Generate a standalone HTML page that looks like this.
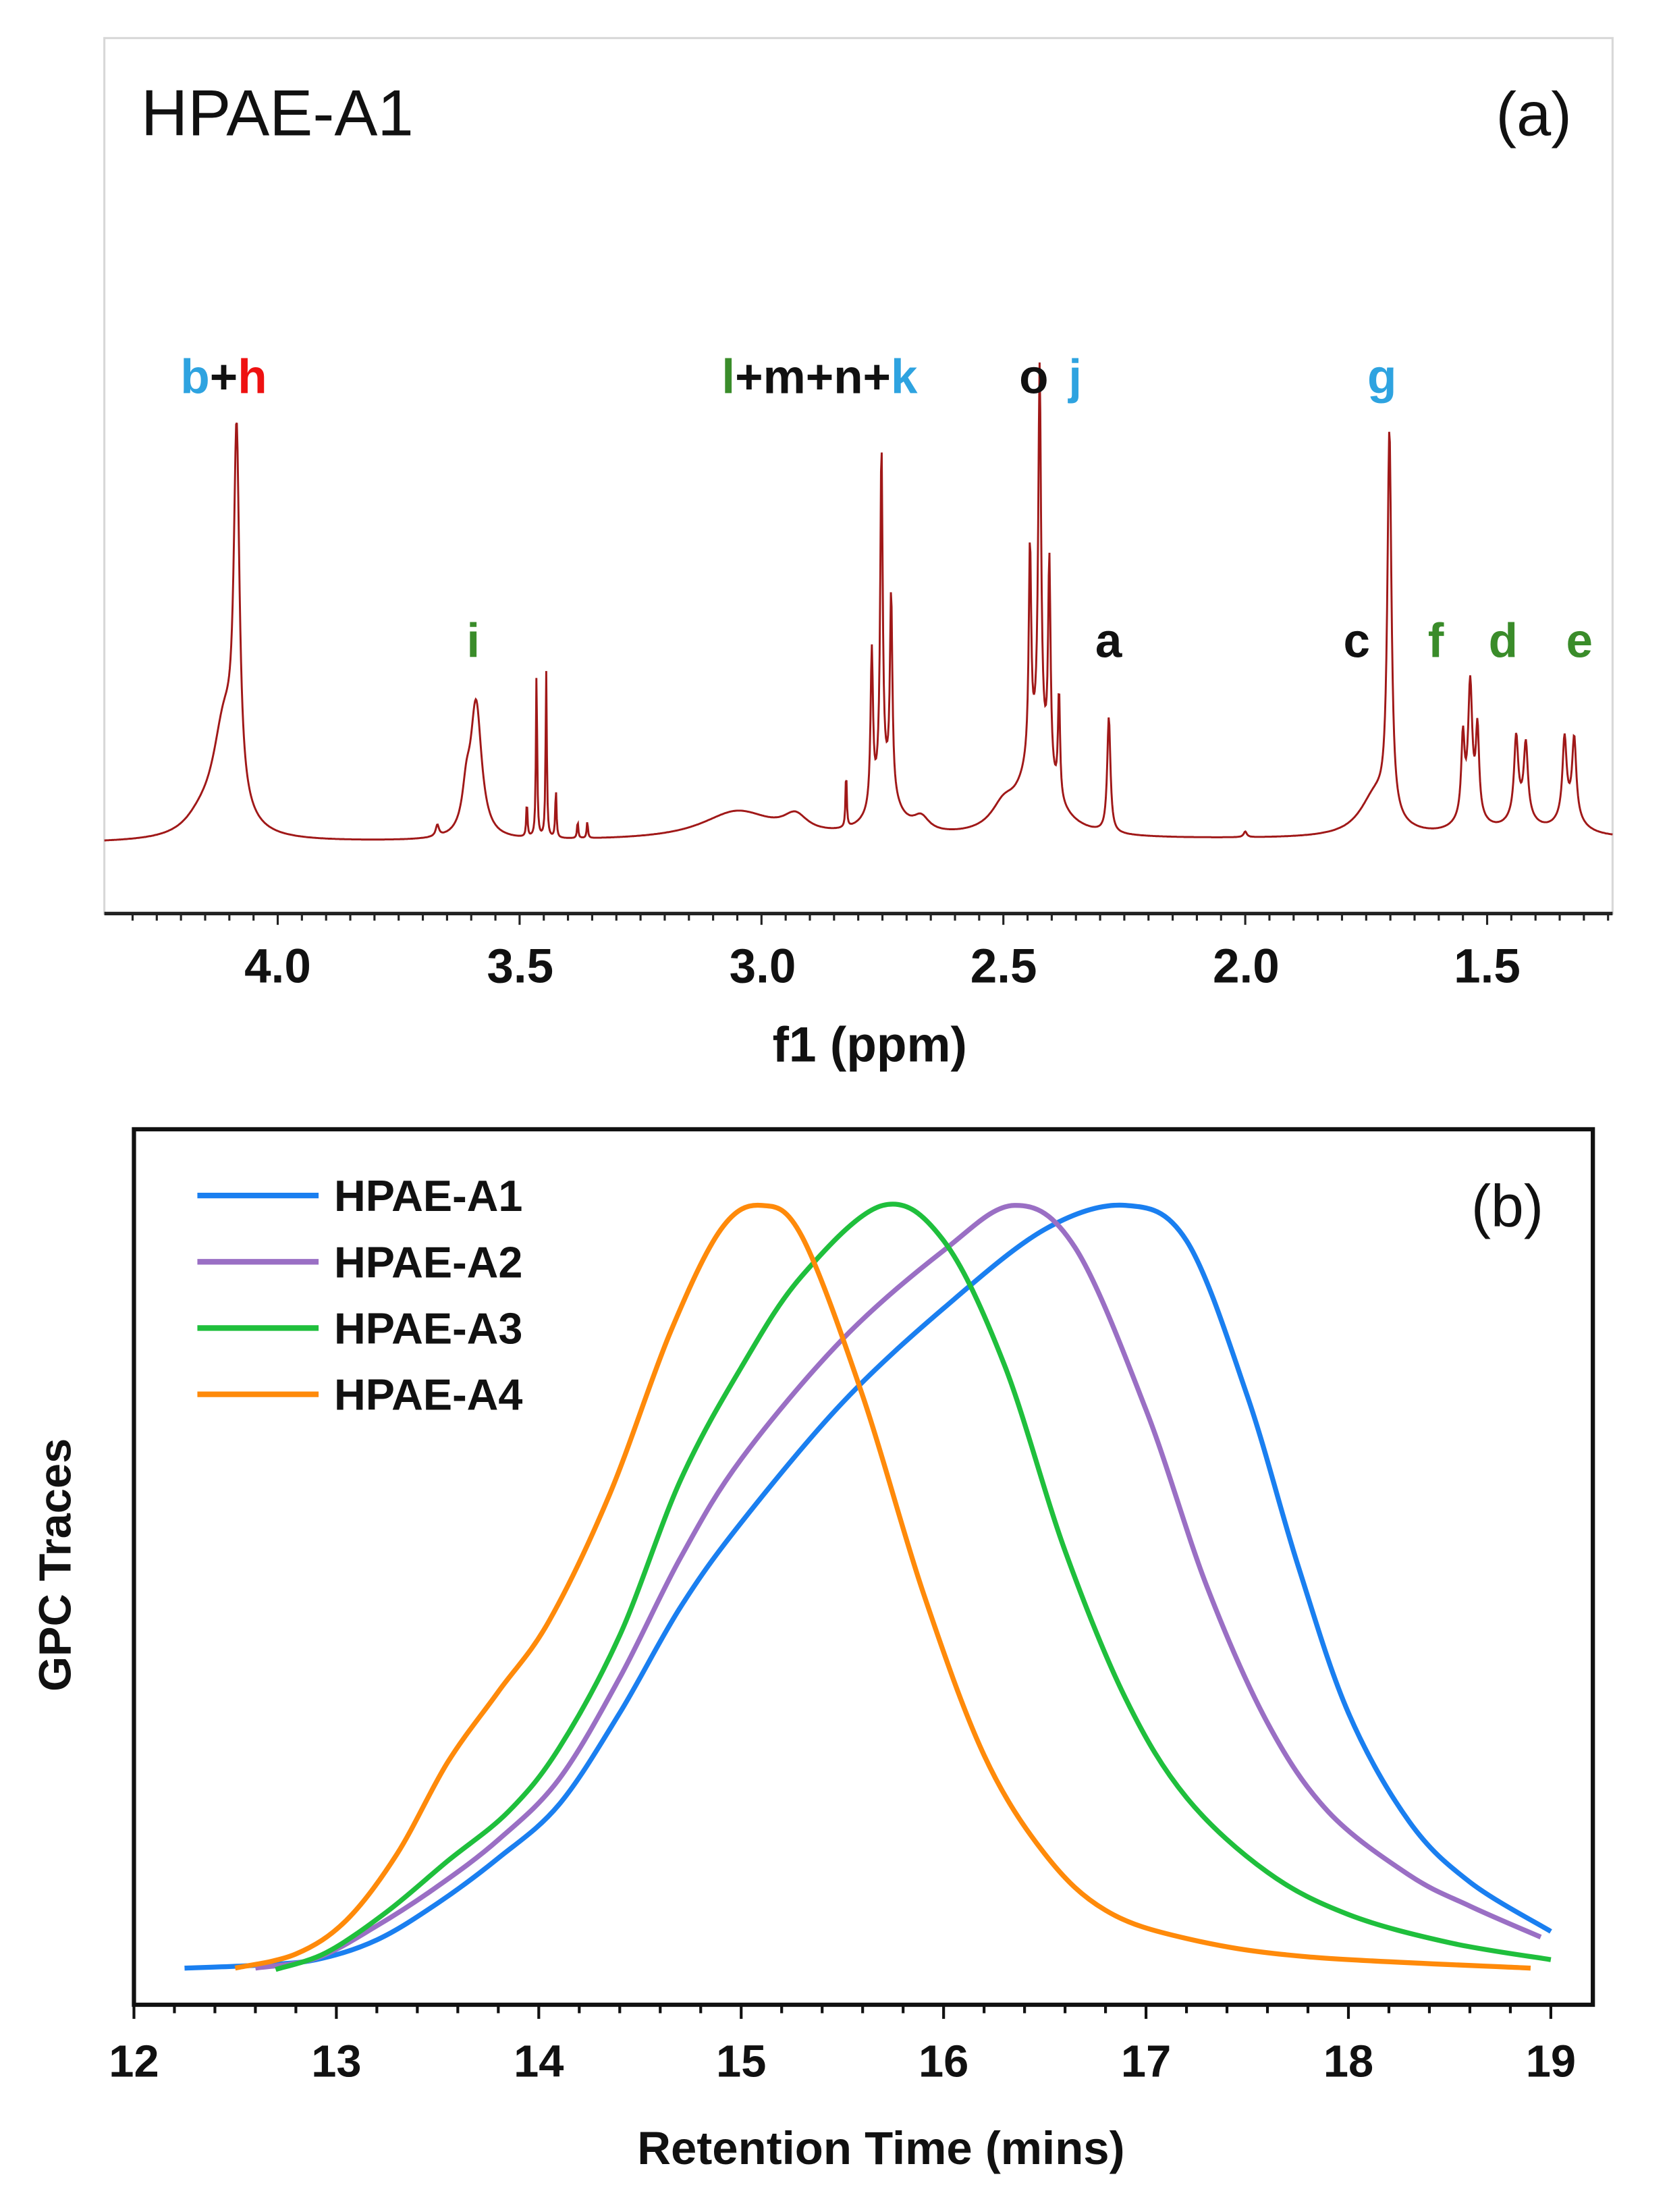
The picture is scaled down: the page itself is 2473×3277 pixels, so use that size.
<!DOCTYPE html>
<html><head><meta charset="utf-8"><style>
html,body{margin:0;padding:0;background:#fff;}
svg{display:block;}
.b{font-family:"Liberation Sans",sans-serif;font-weight:bold;}
</style></head><body>
<svg id="s" width="2473" height="3277" viewBox="0 0 1184 1569" xmlns="http://www.w3.org/2000/svg">
<rect x="0" y="0" width="1184" height="1569" fill="#fff"/>
<rect x="74" y="27" width="1070" height="621" fill="none" stroke="#d8d8d8" stroke-width="1.5"/>
<line x1="74" y1="648" x2="1144" y2="648" stroke="#222" stroke-width="2.5"/>
<g id="ticksA" stroke="#222" stroke-width="1.5"></g>
<text x="100" y="96" font-family="Liberation Sans,sans-serif" font-size="46" fill="#111">HPAE-A1</text>
<text x="1115" y="96" text-anchor="end" font-family="Liberation Sans,sans-serif" font-size="44" fill="#111">(a)</text>
<path id="nmr" fill="none" stroke="#a01818" stroke-width="1.4"/>
<g class="b" font-size="34">
<text x="128" y="279"><tspan fill="#2ea3e0">b</tspan><tspan fill="#111">+</tspan><tspan fill="#ee1111">h</tspan></text>
<text x="512" y="279"><tspan fill="#3a8c2a">l</tspan><tspan fill="#111">+m+n+</tspan><tspan fill="#2ea3e0">k</tspan></text>
<text x="723" y="279" fill="#111">o</text>
<text x="758" y="279" fill="#2ea3e0">j</text>
<text x="970" y="279" fill="#2ea3e0">g</text>
<text x="331" y="466" fill="#3a8c2a">i</text>
<text x="777" y="466" fill="#111">a</text>
<text x="953" y="466" fill="#111">c</text>
<text x="1013" y="466" fill="#3a8c2a">f</text>
<text x="1056" y="466" fill="#3a8c2a">d</text>
<text x="1111" y="466" fill="#3a8c2a">e</text>
</g>
<g class="b" font-size="34" fill="#111" text-anchor="middle">
<text x="197" y="697">4.0</text><text x="369" y="697">3.5</text><text x="541" y="697">3.0</text>
<text x="712" y="697">2.5</text><text x="884" y="697">2.0</text><text x="1055" y="697">1.5</text>
<text x="617" y="753" font-size="35">f1 (ppm)</text>
</g>
<rect x="95" y="801" width="1035" height="621" fill="none" stroke="#111" stroke-width="3"/>
<g id="ticksB" stroke="#111" stroke-width="2"></g>
<g class="b" font-size="32" fill="#111" text-anchor="middle" id="lblB"></g>
<text class="b" x="625" y="1535" text-anchor="middle" font-size="33" fill="#111">Retention Time (mins)</text>
<text class="b" transform="translate(50,1110) rotate(-90)" text-anchor="middle" font-size="32" fill="#111">GPC Traces</text>
<text x="1095" y="870" text-anchor="end" font-family="Liberation Sans,sans-serif" font-size="42" fill="#111">(b)</text>
<g id="curves" fill="none" stroke-width="3.5" stroke-linejoin="round"></g>
<g stroke-width="4">
<line x1="140" y1="848" x2="226" y2="848" stroke="#1a7ff0"/>
<line x1="140" y1="895" x2="226" y2="895" stroke="#9a6fc4"/>
<line x1="140" y1="942" x2="226" y2="942" stroke="#1fbf3c"/>
<line x1="140" y1="989" x2="226" y2="989" stroke="#ff8a0a"/>
</g>
<g class="b" font-size="31" fill="#111">
<text x="237" y="859">HPAE-A1</text><text x="237" y="906">HPAE-A2</text>
<text x="237" y="953">HPAE-A3</text><text x="237" y="1000">HPAE-A4</text>
</g>
</svg>
<script>
var NS="http://www.w3.org/2000/svg";
function el(t,a,p){var e=document.createElementNS(NS,t);for(var k in a)e.setAttribute(k,a[k]);p.appendChild(e);return e;}
var ta=document.getElementById("ticksA");
function xp(p){return 197+(4.0-p)*343.2;}
for(var p=4.3;p>=1.25;p-=0.05){var x=xp(p);var major=Math.abs(p*2-Math.round(p*2))<0.01;el("line",{x1:x,y1:648,x2:x,y2:major?656:653},ta);}
var pk=[[4.085,250,.007],[4.11,80,.03],[4.16,10,.04],[3.59,95,.014],[3.61,25,.01],[3.67,8,.004],
[3.465,118,.0015],[3.445,118,.0015],[3.485,25,.0015],[3.425,35,.0015],[3.38,12,.0015],[3.36,12,.0015],
[3.05,20,.09],[2.93,12,.03],[2.825,40,.0015],[2.752,240,.003],[2.732,140,.003],[2.772,110,.003],[2.745,35,.03],[2.67,10,.02],
[2.425,270,.0035],[2.445,150,.003],[2.405,150,.003],[2.385,75,.0025],[2.43,60,.04],[2.5,15,.03],[2.282,82,.004],
[1.702,270,.005],[1.73,30,.04],[1.55,55,.004],[1.535,90,.005],[1.52,60,.004],[1.535,15,.03],
[1.44,55,.005],[1.42,50,.005],[1.43,15,.03],[1.34,55,.005],[1.32,55,.005],[1.33,15,.03],[2.0,4,.004]];
var d="";
for(var x=74;x<=1144;x+=0.5){var p=4.0-(x-197)/343.2;var y=598-(x-74)*0.003;
for(var i=0;i<pk.length;i++){var q=pk[i],u=(p-q[0])/q[2];y-=q[1]/(1+u*u);}
d+=(x==74?"M":"L")+x.toFixed(1)+" "+y.toFixed(1);}
document.getElementById("nmr").setAttribute("d",d);
var tb=document.getElementById("ticksB"),lb=document.getElementById("lblB");
function xt(t){return 95+(t-12)*143.6;}
for(var t=12;t<=19.01;t+=0.2){var x=xt(t);var major=Math.abs(t-Math.round(t))<0.01;el("line",{x1:x,y1:1422,x2:x,y2:major?1432:1428},tb);}
for(var t=12;t<=19;t++){var tx=el("text",{x:xt(t),y:1473},lb);tx.textContent=t;}
function cr(pts){var P=pts.map(function(a){return [xt(a[0]),a[1]];});var s="M"+P[0][0]+" "+P[0][1];
for(var i=0;i<P.length-1;i++){var p0=P[i-1]||P[i],p1=P[i],p2=P[i+1],p3=P[i+2]||P[i+1];
s+=" C"+(p1[0]+(p2[0]-p0[0])/6)+" "+(p1[1]+(p2[1]-p0[1])/6)+" "+(p2[0]-(p3[0]-p1[0])/6)+" "+(p2[1]-(p3[1]-p1[1])/6)+" "+p2[0]+" "+p2[1];}
return s;}
var C=[["#1a7ff0",[[12.25,1396],[12.6,1394],[12.9,1390],[13.2,1376],[13.5,1350],[13.8,1318],[14.1,1280],[14.4,1215],[14.7,1140],[15.0,1080],[15.5,995],[16.0,928],[16.5,872],[16.9,855],[17.2,880],[17.5,990],[17.75,1110],[18.0,1215],[18.3,1292],[18.6,1335],[19.0,1370]]],
["#9a6fc4",[[12.6,1396],[12.9,1389],[13.2,1366],[13.5,1338],[13.8,1305],[14.1,1262],[14.4,1190],[14.7,1105],[15.0,1035],[15.5,950],[16.0,887],[16.35,855],[16.65,885],[17.0,1000],[17.3,1125],[17.6,1222],[17.9,1285],[18.3,1330],[18.6,1352],[18.95,1374]]],
["#1fbf3c",[[12.7,1397],[12.95,1385],[13.25,1356],[13.55,1320],[13.85,1285],[14.1,1240],[14.4,1160],[14.7,1050],[15.0,970],[15.3,905],[15.7,855],[16.0,880],[16.3,968],[16.6,1100],[16.9,1205],[17.2,1275],[17.6,1328],[18.0,1358],[18.5,1378],[19.0,1390]]],
["#ff8a0a",[[12.5,1396],[12.8,1386],[13.05,1362],[13.3,1315],[13.55,1250],[13.8,1200],[14.05,1150],[14.35,1060],[14.65,945],[14.9,872],[15.1,855],[15.3,877],[15.6,990],[15.9,1130],[16.2,1245],[16.5,1315],[16.8,1355],[17.2,1375],[17.8,1388],[18.9,1396]]]];
var cg=document.getElementById("curves");
C.forEach(function(c){el("path",{d:cr(c[1]),stroke:c[0]},cg);});
</script>
</body></html>
